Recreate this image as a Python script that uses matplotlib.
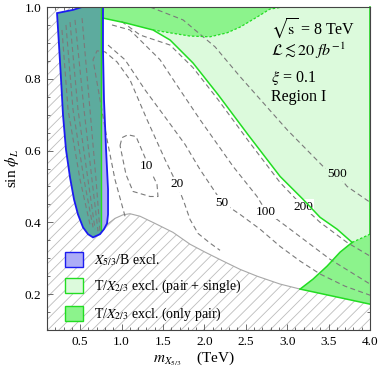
import matplotlib
matplotlib.use('Agg')
import matplotlib.pyplot as plt
from matplotlib.patches import Polygon, Patch
from matplotlib.ticker import MultipleLocator

plt.rcParams['font.family'] = ['Liberation Serif', 'DejaVu Serif']
plt.rcParams['mathtext.fontset'] = 'stix'
plt.rcParams['hatch.linewidth'] = 0.6

# ---------------- data ----------------
# X_{5/3}/B exclusion region boundary
blue_x = [0.221, 0.245, 0.269, 0.293, 0.329, 0.378, 0.426, 0.474, 0.535, 0.595, 0.656,
          0.740, 0.788, 0.825, 0.837, 0.837, 0.813, 0.788, 0.776, 0.776, 0.523, 0.414]
blue_y = [0.983, 0.894, 0.800, 0.700, 0.603, 0.525, 0.464, 0.422, 0.386, 0.367, 0.358,
          0.367, 0.381, 0.397, 0.422, 0.492, 0.603, 0.742, 0.881, 1.000, 1.000, 0.992]
pair_only_xmax_left = 0.758

# T/X_{2/3} (pair + single) boundary line
ps_x = [0.776, 1.042, 1.380, 1.586, 1.863, 2.165, 2.528, 2.914, 3.192, 3.397, 3.602, 3.784]
ps_y = [0.969, 0.956, 0.936, 0.908, 0.844, 0.756, 0.644, 0.528, 0.464, 0.414, 0.381, 0.344]

# T/X_{2/3} (only pair) top band lower edge
band_x = [0.776, 1.042, 1.380, 1.586, 1.827, 2.069, 2.274, 2.431, 2.636, 2.790, 2.950]
band_y = [0.969, 0.956, 0.936, 0.928, 0.919, 0.917, 0.928, 0.944, 0.972, 0.994, 1.000]

# T/X_{2/3} (only pair) bottom-right region
br_x = [3.156, 3.313, 3.482, 3.639, 3.784, 4.000, 4.000]
br_y = [0.214, 0.242, 0.278, 0.317, 0.344, 0.367, 0.172]

# theoretically excluded (hatched) region boundary
gray_x = [0.825, 0.921, 1.018, 1.102, 1.223, 1.404, 1.622, 1.827, 2.008, 2.226, 2.431,
          2.636, 2.914, 3.156, 4.000]
gray_y = [0.394, 0.411, 0.421, 0.424, 0.417, 0.397, 0.372, 0.339, 0.317, 0.292, 0.269,
          0.250, 0.228, 0.214, 0.172]

# fine-tuning contours
c10_x = [0.982, 1.006, 1.078, 1.175, 1.259, 1.344, 1.428, 1.440, 1.344, 1.139, 1.054, 0.982]
c10_y = [0.614, 0.636, 0.644, 0.639, 0.594, 0.547, 0.506, 0.472, 0.472, 0.486, 0.533, 0.614]
c20_x = [1.042, 0.921, 0.825, 0.740, 0.656, 0.704, 0.800, 0.945, 1.102, 1.308, 1.525, 1.670,
         1.755, 1.827, 1.924, 2.069, 2.189]
c20_y = [0.417, 0.519, 0.631, 0.742, 0.853, 0.878, 0.875, 0.847, 0.797, 0.686, 0.575, 0.506,
         0.456, 0.408, 0.369, 0.342, 0.322]
c50_x = [0.837, 1.042, 1.284, 1.549, 1.767, 1.948, 2.213, 2.431, 2.672, 2.914, 3.156, 3.397,
         3.699, 4.000]
c50_y = [0.894, 0.853, 0.769, 0.686, 0.617, 0.547, 0.456, 0.422, 0.381, 0.333, 0.292, 0.256,
         0.222, 0.197]
c100_x = [0.885, 1.102, 1.465, 1.706, 1.948, 2.346, 2.636, 2.745, 3.035, 3.518, 4.000]
c100_y = [0.950, 0.936, 0.853, 0.769, 0.686, 0.556, 0.472, 0.431, 0.381, 0.297, 0.228]
c200_x = [1.000, 1.223, 1.586, 1.863, 2.165, 2.528, 2.914, 3.192, 3.397, 3.723, 4.000]
c200_y = [0.960, 0.922, 0.894, 0.831, 0.742, 0.628, 0.511, 0.444, 0.400, 0.344, 0.306]
c500_x = [1.344, 1.743, 2.129, 2.431, 2.999, 3.433, 3.600, 3.723, 4.000]
c500_y = [1.000, 0.964, 0.889, 0.806, 0.658, 0.556, 0.535, 0.500, 0.456]
inner1_x = [0.281, 0.354, 0.499, 0.619]
inner1_y = [0.936, 0.714, 0.519, 0.394]
inner2_x = [0.329, 0.414, 0.547, 0.656]
inner2_y = [0.950, 0.714, 0.519, 0.386]
inner3_x = [0.378, 0.474, 0.595, 0.680]
inner3_y = [0.958, 0.714, 0.519, 0.381]
inner4_x = [0.438, 0.547, 0.643, 0.716]
inner4_y = [0.964, 0.714, 0.519, 0.375]
inner5_x = [0.523, 0.619, 0.692, 0.740]
inner5_y = [0.969, 0.714, 0.519, 0.375]

contour_labels = ['10', '20', '50', '100', '200', '500']
label_x = [1.30, 1.67, 2.21, 2.74, 3.19, 3.60]
label_y = [0.556, 0.506, 0.455, 0.429, 0.444, 0.535]

legend_labels = [r'$X_{5/3}$/B excl.', r'T/$X_{2/3}$ excl. (pair + single)',
                 r'T/$X_{2/3}$ excl. (only pair)']
info_lines = [r'$\sqrt{\mathrm{s}}$ = 8 TeV', r'$\mathcal{L} \lesssim \mathit{20\ fb}^{-1}$',
              r'$\xi$ = 0.1', 'Region I']

# ---------------- style ----------------
c_blue_f = '#adadf7'
c_blue_e = '#1c1cf0'
c_teal = '#5dab9e'
c_lg = '#dcfadc'
c_dg = '#8cf38c'
c_gl = '#22dd22'
c_dash = '#7a7a7a'
c_hatch = '#bcbcbc'

fig = plt.figure(figsize=(3.78, 3.77), dpi=100)
ax = fig.add_axes([47 / 378, 47 / 377, 323 / 378, 323 / 377])
ax.set_xlim(0.1, 4.0)
ax.set_ylim(0.1, 1.0)

# hatched region
h_x = [0.1, 0.6, 0.6] + gray_x + [4.0, 0.1]
h_y = [1.0, 1.0, 0.5] + gray_y + [0.1, 0.1]
ax.fill(h_x, h_y, facecolor='white', edgecolor=c_hatch, hatch='///', linewidth=0, zorder=1)
ax.plot(gray_x[:-1], gray_y[:-1], color='#a8a8a8', lw=0.8, zorder=2)

# light green (pair + single)
lg_x = [ps_x[0], 4.0, 4.0] + ps_x[::-1]
lg_y = [1.0, 1.0, br_y[5]] + ps_y[::-1]
ax.fill(lg_x, lg_y, facecolor=c_lg, edgecolor='none', zorder=2)

# dark green top band
dgb_x = [band_x[0]] + band_x + [band_x[0]]
dgb_y = [1.0] + band_y + [1.0]
ax.fill(dgb_x, dgb_y, facecolor=c_dg, edgecolor='none', zorder=3)
# dark green bottom right
ax.fill(br_x, br_y, facecolor=c_dg, edgecolor='none', zorder=3)

# blue region + overlap
bpoly = Polygon(list(zip(blue_x, blue_y)), closed=True, facecolor=c_blue_f,
                edgecolor='none', zorder=3)
ax.add_patch(bpoly)
teal = ax.fill_between([0.1, pair_only_xmax_left], 0.1, 1.0, color=c_teal, lw=0, zorder=3.5)
teal.set_clip_path(bpoly)

# contours
dash = (0, (4.5, 3))
for cx, cy in [(c10_x, c10_y), (c20_x, c20_y), (c50_x, c50_y), (c100_x, c100_y),
               (c200_x, c200_y), (c500_x, c500_y), (inner1_x, inner1_y),
               (inner2_x, inner2_y), (inner3_x, inner3_y), (inner4_x, inner4_y),
               (inner5_x, inner5_y)]:
    ax.plot(cx, cy, color=c_dash, lw=0.8, ls=dash, zorder=4)

# boundary lines
ax.plot(ps_x, ps_y, color=c_gl, lw=1.1, zorder=5)
ax.plot(band_x[2:], band_y[2:], color=c_gl, lw=0.9, ls=(0, (2, 1.5)), zorder=5)
ax.plot(br_x[:5], br_y[:5], color=c_gl, lw=1.1, zorder=5)
ax.plot([br_x[0], br_x[6]], [br_y[0], br_y[6]], color=c_gl, lw=1.1, zorder=5)
ax.plot(br_x[4:6], br_y[4:6], color=c_gl, lw=0.9, ls=(0, (2, 1.5)), zorder=5)
ax.plot([4.0, 4.0], [br_y[5], 1.0], color=c_gl, lw=1.2, zorder=5, clip_on=False)
vl, = ax.plot([pair_only_xmax_left] * 2, [0.1, 1.0], color=c_gl, lw=1.0, zorder=5)
vl.set_clip_path(bpoly)
ax.fill(blue_x, blue_y, facecolor='none', edgecolor=c_blue_e, lw=1.3, zorder=6)

# contour labels
for t, lx, ly in zip(contour_labels, label_x, label_y):
    bg = c_lg if t == '500' else 'white'
    ax.text(lx, ly, t, fontsize=9.5, ha='center', va='center', zorder=4.5,
            bbox=dict(boxstyle='square,pad=0.1', fc=bg, ec='none'))

# info text
for s, yb in zip(info_lines, [0.915, 0.847, 0.768, 0.709]):
    ax.text(0.693, yb, s, transform=ax.transAxes, fontsize=11.5, va='baseline', ha='left',
            zorder=7)

# legend
handles = [Patch(facecolor=c_blue_f, edgecolor=c_blue_e, lw=1.0),
           Patch(facecolor=c_lg, edgecolor=c_gl, lw=1.0),
           Patch(facecolor=c_dg, edgecolor=c_gl, lw=1.0)]
ax.legend(handles, legend_labels, loc='lower left', bbox_to_anchor=(0.035, 0.0),
          frameon=False, fontsize=10, handlelength=1.3, handleheight=1.3,
          labelspacing=0.74, handletextpad=0.8, borderaxespad=0.1)

# axes styling
ax.xaxis.set_major_locator(MultipleLocator(0.5))
ax.xaxis.set_minor_locator(MultipleLocator(0.1))
ax.yaxis.set_major_locator(MultipleLocator(0.2))
ax.yaxis.set_minor_locator(MultipleLocator(0.05))
ax.tick_params(which='both', direction='in', top=True, right=True, labelsize=9.5,
               color='#555555', width=0.6)
ax.tick_params(which='major', length=4, pad=4)
ax.tick_params(which='minor', length=2)
for sp in ax.spines.values():
    sp.set_linewidth(0.8)
    sp.set_color('#444444')
    sp.set_zorder(8)
ax.set_xticks([0.5, 1.0, 1.5, 2.0, 2.5, 3.0, 3.5, 4.0])
ax.set_xticklabels(['0.5', '1.0', '1.5', '2.0', '2.5', '3.0', '3.5', '4.0'])
ax.set_yticks([0.2, 0.4, 0.6, 0.8, 1.0])
ax.set_yticklabels(['0.2', '0.4', '0.6', '0.8', '1.0'])

ax.set_xlabel(r'$m_{X_{5/3}}$    (TeV)', fontsize=11, labelpad=2, x=0.455)
ax.set_ylabel(r'sin $\phi_L$', fontsize=11, labelpad=3)

fig.savefig('out.png', dpi=100)
